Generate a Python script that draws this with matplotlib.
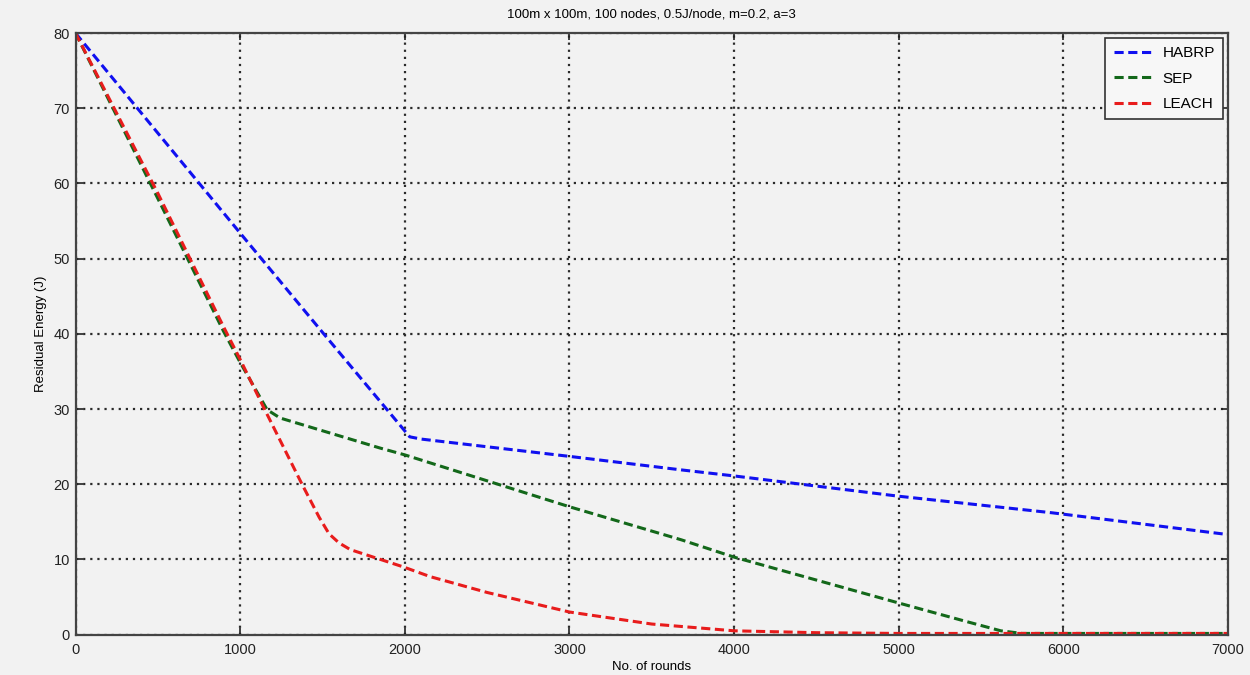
import matplotlib
matplotlib.use('Agg')
import matplotlib.pyplot as plt
import numpy as np

# residual energy vs rounds
habrp_x = [0, 1000, 1500, 2030, 2100, 3000, 3680, 4000, 5000, 5930, 7000]
habrp_y = [80, 53.4, 40.2, 26.3, 26.0, 23.7, 21.9, 21.1, 18.4, 16.2, 13.3]

sep_x = [0, 500, 900, 1000, 1164, 1243, 1486, 1851, 2000, 3000, 3680,
         4000, 5000, 5400, 5620, 5750, 7000]
sep_y = [80, 58, 40.3, 36.2, 29.9, 28.8, 27.2, 24.8, 23.9, 17.0, 12.6,
         10.3, 4.2, 1.8, 0.5, 0.15, 0.15]

leach_x = [0, 500, 900, 1000, 1143, 1378, 1480, 1540, 1600, 1669, 1991, 2155,
           2500, 3000, 3500, 4000, 4500, 5000, 7000]
leach_y = [80, 58.7, 40.9, 36.6, 30.2, 19.9, 15.6, 13.4, 12.2, 11.3, 9.0, 7.7,
           5.6, 3.0, 1.4, 0.5, 0.25, 0.15, 0.15]

plt.rcParams['font.family'] = ['Liberation Sans', 'DejaVu Sans']

fig = plt.figure(figsize=(12.5, 6.75), dpi=100, facecolor='#f2f2f2')
ax = fig.add_axes([0.0604, 0.0599, 0.9220, 0.8911])
ax.set_facecolor('#f2f2f2')

dash = (3, 1.5)
ax.plot(habrp_x, habrp_y, color='#1010f0', lw=2.2, ls='--', dashes=dash, label='HABRP')
ax.plot(sep_x, sep_y, color='#13681a', lw=2.2, ls='--', dashes=dash, label='SEP')
ax.plot(leach_x, leach_y, color='#e81c1c', lw=2.2, ls='--', dashes=dash, label='LEACH')

ax.set_xlim(0, 7000)
ax.set_ylim(0, 80)
ax.set_xticks(np.arange(0, 7001, 1000))
ax.set_yticks(np.arange(0, 81, 10))
ax.grid(True, color='#2a2a2a', ls=(0, (1, 2.2)), lw=1.6)
ax.tick_params(direction='in', top=True, right=True, length=5, width=1.2,
               labelsize=10.5, colors='#222222')
ax.tick_params(axis='x', pad=6)
ax.tick_params(axis='y', pad=4)
for sp in ax.spines.values():
    sp.set_color('#444444')
    sp.set_linewidth(1.6)

ax.set_title('100m x 100m, 100 nodes, 0.5J/node, m=0.2, a=3', fontsize=9.5, pad=11)
ax.set_xlabel('No. of rounds', fontsize=9.5, labelpad=3)
ax.set_ylabel('Residual Energy (J)', fontsize=9.5, labelpad=5)

leg = ax.legend(loc='upper right', fontsize=11, fancybox=False, framealpha=1,
                handlelength=2.6, handletextpad=0.6, borderpad=0.55,
                labelspacing=0.75, borderaxespad=0.3)
leg.get_frame().set_edgecolor('#333333')
leg.get_frame().set_facecolor('#f7f7f7')
leg.get_frame().set_linewidth(1.2)

fig.savefig('out.png', dpi=100, facecolor=fig.get_facecolor())
